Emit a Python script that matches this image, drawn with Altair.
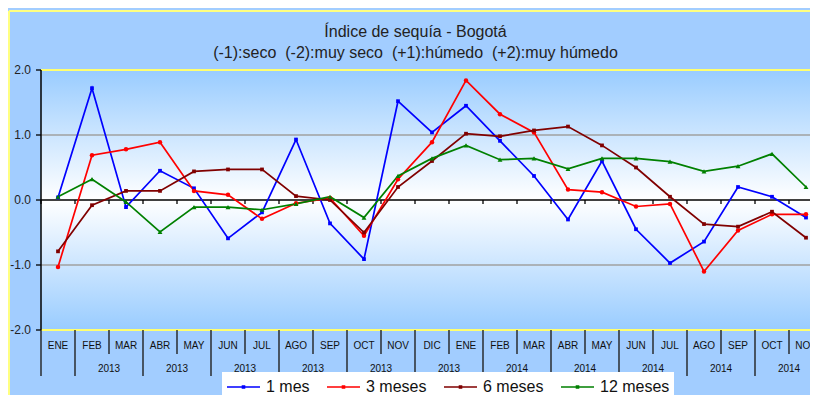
import altair as alt
import pandas as pd

# ---------------- data ----------------
months = ["ENE", "FEB", "MAR", "ABR", "MAY", "JUN", "JUL", "AGO", "SEP", "OCT", "NOV", "DIC",
          "ENE", "FEB", "MAR", "ABR", "MAY", "JUN", "JUL", "AGO", "SEP", "OCT", "NOV"]
# year labels drawn under each pair of months (FEB-MAR, ABR-MAY, ... OCT-NOV)
pair_years = ["2013", "2013", "2013", "2013", "2013", "2013",
              "2014", "2014", "2014", "2014", "2014"]

series_names = ["1 mes", "3 meses", "6 meses", "12 meses"]
series_colors = ["#0000FF", "#FF0000", "#800000", "#008000"]

mes1 = [0.04, 1.72, -0.11, 0.45, 0.18, -0.59, -0.19, 0.93, -0.36, -0.91, 1.52, 1.04,
        1.45, 0.91, 0.37, -0.30, 0.60, -0.45, -0.97, -0.64, 0.20, 0.05, -0.27]
mes3 = [-1.03, 0.69, 0.78, 0.89, 0.14, 0.08, -0.29, -0.05, 0.03, -0.55, 0.32, 0.89,
        1.84, 1.32, 1.04, 0.16, 0.12, -0.10, -0.06, -1.10, -0.47, -0.22, -0.22]
mes6 = [-0.79, -0.08, 0.14, 0.14, 0.44, 0.47, 0.47, 0.06, 0.00, -0.50, 0.20, 0.60,
        1.02, 0.98, 1.07, 1.13, 0.84, 0.50, 0.05, -0.37, -0.41, -0.18, -0.58]
mes12 = [0.05, 0.32, -0.03, -0.49, -0.11, -0.11, -0.15, -0.06, 0.05, -0.27, 0.37, 0.64,
         0.84, 0.62, 0.64, 0.48, 0.64, 0.64, 0.59, 0.44, 0.52, 0.71, 0.20]

y_ticks = [-2, -1, 0, 1, 2]
title_lines = ["Índice de sequía - Bogotá",
               "(-1):seco  (-2):muy seco  (+1):húmedo  (+2):muy húmedo"]

# ---------------- layout ----------------
PLOT_W = 769
PLOT_H = 260
BAND = 34.0
FONT = "Liberation Sans, Arial, sans-serif"

n = len(months)
idx = list(range(n))
rows = []
for name, vals in zip(series_names, [mes1, mes3, mes6, mes12]):
    for i, v in zip(idx, vals):
        rows.append({"idx": i, "value": v, "series": name})
df = pd.DataFrame(rows)

xscale = alt.Scale(domain=[-0.5, -0.5 + PLOT_W / BAND], nice=False, zero=False)
yscale = alt.Scale(domain=[-2, 2], nice=False, zero=False)
X = alt.X("idx:Q", scale=xscale, axis=None)
Ynone = alt.Y("value:Q", scale=yscale, axis=None)

one = pd.DataFrame({"k": [0]})

border_top = alt.Chart(one).mark_rule(color="#FFFF80", strokeWidth=2).encode(
    x=alt.value(-32), x2=alt.value(PLOT_W + 10), y=alt.value(-59))
border_left = alt.Chart(one).mark_rule(color="#FFFF80", strokeWidth=2).encode(
    x=alt.value(-32), y=alt.value(-59), y2=alt.value(PLOT_H + 80))

plot_bg = alt.Chart(one).mark_rect(
    color=alt.Gradient(
        gradient="linear",
        stops=[alt.GradientStop(color="#99CCFF", offset=0),
               alt.GradientStop(color="#FFFFFF", offset=0.5),
               alt.GradientStop(color="#99CCFF", offset=1)],
        x1=0, x2=0, y1=0, y2=1,
    )
).encode(x=alt.value(0), x2=alt.value(PLOT_W), y=alt.value(0), y2=alt.value(PLOT_H))

grid_gray = alt.Chart(pd.DataFrame({"value": [1, -1]})).mark_rule(
    color="#A0A0A0", strokeWidth=1.3).encode(y=Ynone)
grid_yellow = alt.Chart(pd.DataFrame({"value": [2, -2]})).mark_rule(
    color="#FFFF70", strokeWidth=2).encode(y=Ynone)
zero_line = alt.Chart(pd.DataFrame({"value": [0]})).mark_rule(
    color="#000000", strokeWidth=1.6).encode(y=Ynone)
y_domain = alt.Chart(pd.DataFrame({"idx": [-0.5]})).mark_rule(
    color="#000000", strokeWidth=1.5).encode(
    x=X, y=alt.value(0), y2=alt.value(PLOT_H))

# y tick marks and labels drawn as marks
ytick_df = pd.DataFrame({"value": y_ticks,
                         "label": [("-" if v < 0 else "") + f"{abs(v):.1f}" for v in y_ticks]})
y_tickmarks = alt.Chart(ytick_df).mark_rule(color="#000000", strokeWidth=1.3).encode(
    x=alt.value(-5), x2=alt.value(0), y=Ynone)
y_ticklabels = alt.Chart(ytick_df).mark_text(
    font=FONT, fontSize=12, color="#222222", align="right", baseline="middle").encode(
    x=alt.value(-10), y=Ynone, text="label:N")

boundaries = [i - 0.5 for i in range(n)]
tall_b = [b for b in boundaries if b == -0.5 or (b - 0.5) % 2 == 0]
short_b = [b for b in boundaries if b not in tall_b]

zero_ticks = alt.Chart(pd.DataFrame({"idx": boundaries})).mark_rule(
    color="#000000", strokeWidth=1.3).encode(
    x=X, y=alt.value(PLOT_H / 2), y2=alt.value(PLOT_H / 2 + 4))

sep_tall = alt.Chart(pd.DataFrame({"idx": tall_b})).mark_rule(
    color="#222222", strokeWidth=1.4).encode(
    x=X, y=alt.value(PLOT_H), y2=alt.value(PLOT_H + 46))
sep_short = alt.Chart(pd.DataFrame({"idx": short_b})).mark_rule(
    color="#222222", strokeWidth=1.4).encode(
    x=X, y=alt.value(PLOT_H), y2=alt.value(PLOT_H + 24))

month_labels = alt.Chart(pd.DataFrame({"idx": idx, "label": months})).mark_text(
    font=FONT, fontSize=10, color="#111111", baseline="middle").encode(
    x=X, y=alt.value(PLOT_H + 16), text="label:N")

year_idx = [2 * k - 0.5 for k in range(1, len(pair_years) + 1)]
year_labels = alt.Chart(pd.DataFrame({"idx": year_idx, "label": pair_years})).mark_text(
    font=FONT, fontSize=10, color="#111111", baseline="middle").encode(
    x=X, y=alt.value(PLOT_H + 39), text="label:N")

# title drawn as text marks (two lines); keep the double spaces visible in SVG
title_df = pd.DataFrame({"line": [0, 1],
                         "text": [t.replace("  ", " \u00a0") for t in title_lines]})
title_marks = alt.Chart(title_df).mark_text(
    font=FONT, fontSize=16, color="#222222", baseline="middle").encode(
    x=alt.value(PLOT_W / 2 - 10),
    y=alt.Y("line:Q", scale=alt.Scale(domain=[0, 1], range=[-38, -17]), axis=None),
    text="text:N")

# legend symbol: a 33px line with a small marker in the middle
legend_symbol = "M-1,0L2.3,0M0.55,-0.1L0.75,-0.1L0.75,0.1L0.55,0.1Z"

lines = alt.Chart(df).mark_line(strokeWidth=1.7).encode(
    x=X,
    y=Ynone,
    color=alt.Color("series:N",
                    scale=alt.Scale(domain=series_names, range=series_colors),
                    sort=series_names,
                    legend=alt.Legend(title=None, orient="none", legendX=181, legendY=302,
                                      direction="horizontal", fillColor="white",
                                      padding=4, labelFont=FONT, labelFontSize=16,
                                      labelColor="#111111", symbolType=legend_symbol,
                                      symbolSize=400, symbolStrokeWidth=1.6,
                                      labelOffset=18, columnPadding=13)),
    detail="series:N",
)

shapes = ["square", "circle", "square", "triangle-up"]
sizes = [14, 20, 14, 24]
point_layers = []
for name, color, shape, size in zip(series_names, series_colors, shapes, sizes):
    point_layers.append(
        alt.Chart(df[df["series"] == name]).mark_point(
            filled=True, shape=shape, size=size, color=color, opacity=1).encode(x=X, y=Ynone)
    )

chart = alt.layer(
    border_top, border_left, plot_bg, grid_gray, grid_yellow, zero_line, zero_ticks,
    y_domain, y_tickmarks, y_ticklabels, sep_tall, sep_short, month_labels, year_labels,
    title_marks, lines, *point_layers
).resolve_scale(y="independent").properties(
    width=PLOT_W, height=PLOT_H,
    padding={"left": 33, "top": 62, "right": 0, "bottom": 65},
    autosize=alt.AutoSizeParams(type="none"),
    background="#A2CDFF",
).configure_view(stroke=None)

chart.save("out.html", embed_options={"renderer": "svg", "actions": False})
